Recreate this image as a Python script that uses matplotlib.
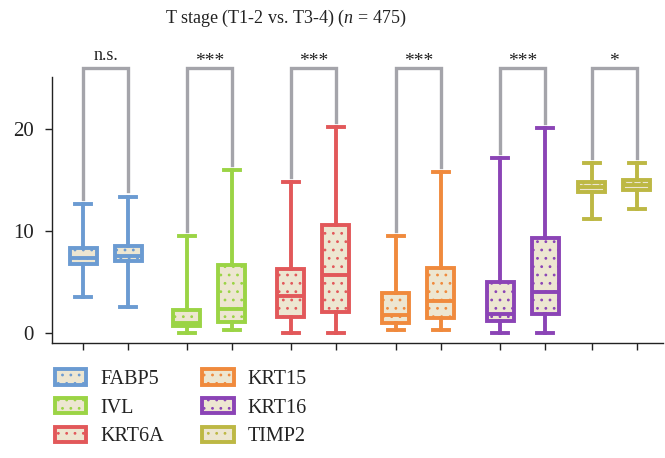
import matplotlib
matplotlib.use("Agg")
import matplotlib.pyplot as plt

plt.rcParams['font.family'] = ['Liberation Serif', 'DejaVu Serif']
plt.rcParams['mathtext.fontset'] = 'custom'
plt.rcParams['mathtext.rm'] = 'Liberation Serif'
plt.rcParams['mathtext.it'] = 'Liberation Serif:italic'
plt.rcParams['hatch.linewidth'] = 0.8

genes = ["FABP5", "IVL", "KRT6A", "KRT15", "KRT16", "TIMP2"]
groups = ["T1-2", "T3-4"]
colors = ["#6b9bd2", "#9bd445", "#e2585a", "#f08a3d", "#8b44b6", "#bdb844"]
signif = ["n.s.", "***", "***", "***", "***", "*"]

# box statistics per gene: [T1-2, T3-4]
whislo = [[3.5, 2.5], [0.0, 0.3], [0.0, 0.0], [0.25, 0.25], [0.0, 0.0], [11.2, 12.15]]
q1 = [[6.75, 7.05], [0.7, 1.1], [1.6, 2.05], [1.0, 1.5], [1.2, 1.9], [13.85, 14.05]]
med = [[7.4, 7.6], [1.0, 2.3], [3.65, 5.7], [1.75, 3.1], [1.85, 4.05], [14.3, 14.5]]
q3 = [[8.3, 8.55], [2.2, 6.65], [6.25, 10.6], [3.9, 6.4], [5.0, 9.3], [14.8, 15.0]]
whishi = [[12.65, 13.4], [9.55, 16.0], [14.85, 20.25], [9.5, 15.8], [17.2, 20.1], [16.65, 16.7]]

title = "T stage (T1-2 vs. T3-4) ($n$ = 475)"

W, H = 665, 458
fig = plt.figure(figsize=(W / 100, H / 100), dpi=100)
ax = fig.add_axes([52 / W, 1 - 343 / H, (663 - 52) / W, (343 - 77) / H])

group_centers = [0.0, 2.31, 4.62, 6.95, 9.27, 11.31]
beige = "#ede6d1"
grey = "#a4a4aa"
lw = 2.8

handles = []
for i, g in enumerate(genes):
    stats = []
    for j in range(2):
        stats.append(dict(med=med[i][j], q1=q1[i][j], q3=q3[i][j],
                          whislo=whislo[i][j], whishi=whishi[i][j], fliers=[]))
    pos = [group_centers[i], group_centers[i] + 1.0]
    c = colors[i]
    bp = ax.bxp(stats, positions=pos, widths=0.6, patch_artist=True,
                showfliers=False, manage_ticks=False,
                boxprops=dict(facecolor=beige, edgecolor=c, linewidth=lw, hatch='..'),
                medianprops=dict(color=c, linewidth=lw),
                whiskerprops=dict(color=c, linewidth=lw),
                capprops=dict(color=c, linewidth=lw),
                capwidths=0.35)
    handles.append(bp['boxes'][0])
    # significance bracket
    top = 26.0
    y0 = whishi[i][0] + 0.5
    y1 = whishi[i][1] + 0.5
    ax.plot([pos[0], pos[0], pos[1], pos[1]], [y0, top, top, y1],
            color=grey, lw=2.4, clip_on=False, solid_joinstyle='miter', zorder=1)
    is_star = signif[i].startswith('*')
    ax.text((pos[0] + pos[1]) / 2, top + (0.25 if is_star else 0.8), signif[i],
            ha='center', va='baseline', fontsize=14 if is_star else 13,
            color='#222222', clip_on=False)

ax.set_xlim(-0.69, 12.89)
ax.set_ylim(-1.0, 25.15)
ax.set_yticks([0, 10, 20])
ax.set_xticks([p for c in group_centers for p in (c, c + 1.0)])
ax.set_xticklabels([])
ax.tick_params(axis='both', length=5, width=1, labelsize=15, colors='#222222')
ax.tick_params(axis='y', pad=8)
for s in ['top', 'right']:
    ax.spines[s].set_visible(False)
for s in ['left', 'bottom']:
    ax.spines[s].set_linewidth(1)
    ax.spines[s].set_color('#222222')

fig.text(286 / W, 1 - 18 / H, title, ha='center', va='center', fontsize=13, color='#222222')

leg = fig.legend(handles, genes, ncol=2, loc='upper left',
                 bbox_to_anchor=(37 / W, 1 - 351 / H), frameon=False,
                 fontsize=14.5, handlelength=1.55, handleheight=0.8,
                 handletextpad=0.7, columnspacing=1.9, labelspacing=0.45)
for t in leg.get_texts():
    t.set_color('#222222')

fig.savefig("out.png", dpi=100)
